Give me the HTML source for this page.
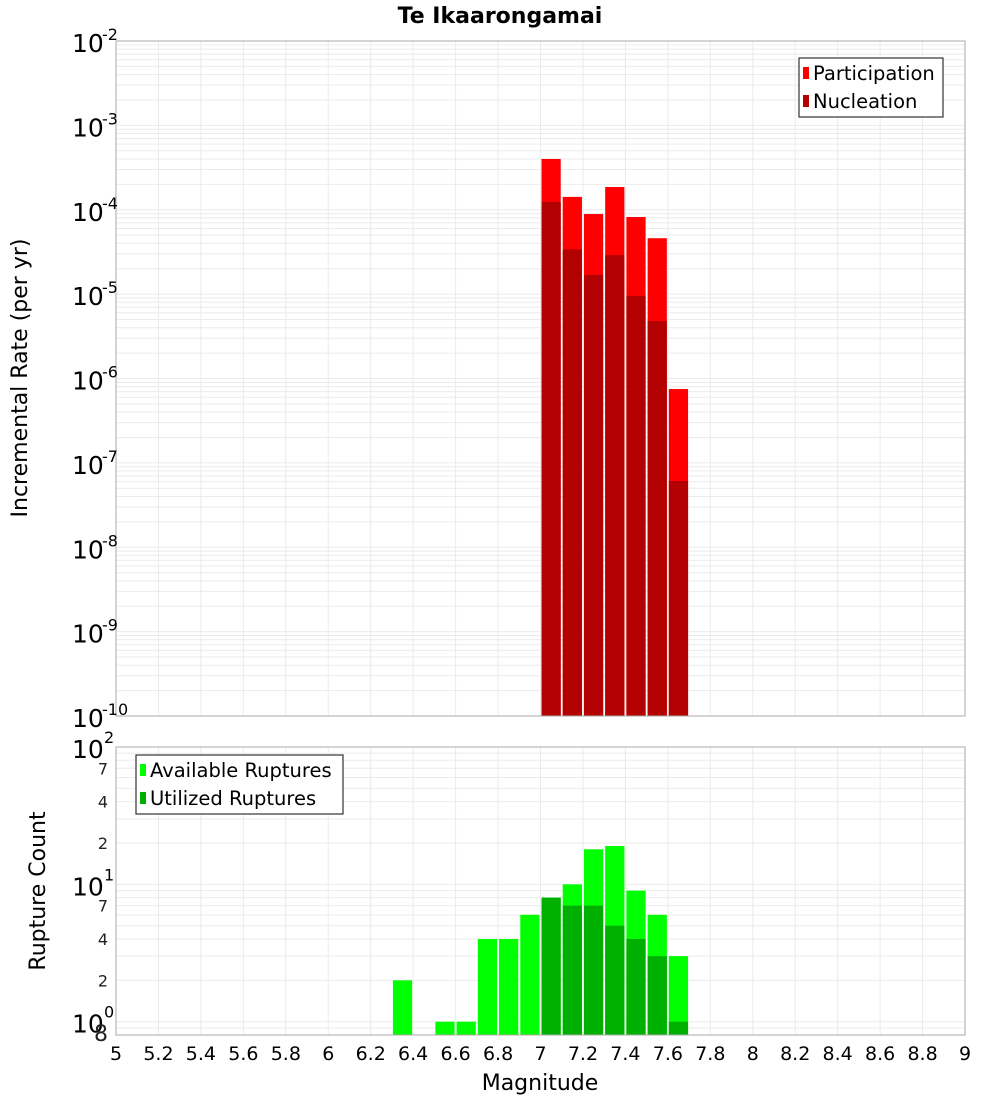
<!DOCTYPE html>
<html><head><meta charset="utf-8"><style>
body{margin:0;background:#fff;}
svg text{font-family:"DejaVu Sans","Liberation Sans",sans-serif;}
</style></head><body>
<svg id="chart" width="1000" height="1100" xmlns="http://www.w3.org/2000/svg">
<text x="500" y="23" text-anchor="middle" font-size="22" font-weight="bold">Te Ikaarongamai</text>
<text transform="translate(27,378) rotate(-90)" text-anchor="middle" font-size="22">Incremental Rate (per yr)</text>
<text transform="translate(45,891) rotate(-90)" text-anchor="middle" font-size="22">Rupture Count</text>
<text x="540" y="1090" text-anchor="middle" font-size="22">Magnitude</text>
<g id="g"></g>
</svg>
<script>
const mags=[7.0,7.1,7.2,7.3,7.4,7.5,7.6];
const participation=[4.0e-4,1.42e-4,8.9e-5,1.86e-4,8.2e-5,4.6e-5,7.5e-7];
const nucleation=[1.24e-4,3.4e-5,1.69e-5,2.9e-5,9.5e-6,4.8e-6,6.1e-8];
const countMags=[6.3,6.5,6.6,6.7,6.8,6.9,7.0,7.1,7.2,7.3,7.4,7.5,7.6];
const available=[2,1,1,4,4,6,8,10,18,19,9,6,3];
const utilized=[0,0,0,0,0,0,8,7,7,5,4,3,1];
const xTicks=[5,5.2,5.4,5.6,5.8,6,6.2,6.4,6.6,6.8,7,7.2,7.4,7.6,7.8,8,8.2,8.4,8.6,8.8,9];
const topDecades=[-2,-3,-4,-5,-6,-7,-8,-9,-10];

const NS='http://www.w3.org/2000/svg';
const G=document.getElementById('g');
function el(t,a,p){const e=document.createElementNS(NS,t);for(const k in a)e.setAttribute(k,a[k]);(p||G).appendChild(e);return e;}
const L=116,R=965;
const xs=m=>L+(m-5)/4*(R-L);
const T1=41,B1=716;const y1=v=>T1+(-2-Math.log10(v))/8*(B1-T1);
const T2=747,B2=1035;const lmin2=Math.log10(0.8);const y2=v=>T2+(2-Math.log10(v))/(2-lmin2)*(B2-T2);

function grid(T,B,yf,lo,hi){
  for(let d=lo;d<hi;d++)for(let k=1;k<=9;k++){const v=k*Math.pow(10,d);const y=yf(v);if(y<T||y>B)continue;
    const l=el('line',{x1:L,x2:R,y1:y,y2:y,stroke:'#ebebeb','stroke-width':1});
    }
  xTicks.forEach(m=>{const x=xs(m);const l=el('line',{x1:x,x2:x,y1:T,y2:B,stroke:'#ebebeb','stroke-width':1});
    });
}
grid(T1,B1,y1,-10,-2);
grid(T2,B2,y2,-1,2);

mags.forEach((m,i)=>{
  const x=xs(m)+1,w=xs(m+0.1)-xs(m)-2;
  const p=el('rect',{x:x,y:y1(participation[i]),width:w,height:B1-y1(participation[i]),fill:'#ff0000'});
  
  const n=el('rect',{x:x,y:y1(nucleation[i]),width:w,height:B1-y1(nucleation[i]),fill:'#b30000'});
  
});
countMags.forEach((m,i)=>{
  const x=xs(m)+1,w=xs(m+0.1)-xs(m)-2;
  if(available[i]>0){const a=el('rect',{x:x,y:y2(available[i]),width:w,height:B2-y2(available[i]),fill:'#00ff00'});
    }
  if(utilized[i]>0){const u=el('rect',{x:x,y:y2(utilized[i]),width:w,height:B2-y2(utilized[i]),fill:'#00b000'});
    }
});

const f1=el('rect',{x:L,y:T1,width:R-L,height:B1-T1,fill:'none',stroke:'#aaa'});

const f2=el('rect',{x:L,y:T2,width:R-L,height:B2-T2,fill:'none',stroke:'#aaa'});


topDecades.forEach(d=>{const y=y1(Math.pow(10,d));
  const t=el('text',{x:72,y:y+11,'font-size':25});t.textContent='10';
  
  const s=el('text',{x:102,y:y-1,'font-size':16});s.textContent=String(d);
  });
[[100,'2'],[10,'1'],[1,'0']].forEach(([v,e])=>{const y=y2(v);
  const t=el('text',{x:72,y:y+11,'font-size':25});t.textContent='10';
  
  const s=el('text',{x:104,y:y-4,'font-size':16});s.textContent=e;
  });
[[70,'7'],[40,'4'],[20,'2'],[7,'7'],[4,'4'],[2,'2'],[0.8,'8']].forEach(([v,l])=>{const y=y2(v);
  const t=el('text',{x:108,y:y+6,'font-size':v===0.8?22:16,'text-anchor':'end',fill:'#222'});t.textContent=l;
  });
xTicks.forEach(m=>{const t=el('text',{x:xs(m),y:1060,'font-size':19,'text-anchor':'middle'});
  t.textContent=String(m);});

function legend(x,y,w,items,name){
  const g=el('g',{});
  el('rect',{x:x,y:y,width:w,height:59,fill:'#fff',stroke:'#333','stroke-width':1.2},g);
  items.forEach(([c,lbl],i)=>{
    const sw=el('rect',{x:x+4,y:y+9+i*28,width:6,height:12,fill:c},g);
    
    const t=el('text',{x:x+14,y:y+22+i*28,'font-size':19.5},g);t.textContent=lbl;
    });
}
legend(799,58,144,[['#ff0000','Participation'],['#b30000','Nucleation']],'top-legend');
legend(136,755,207,[['#00ff00','Available Ruptures'],['#00b000','Utilized Ruptures']],'bottom-legend');
</script>
</body></html>
